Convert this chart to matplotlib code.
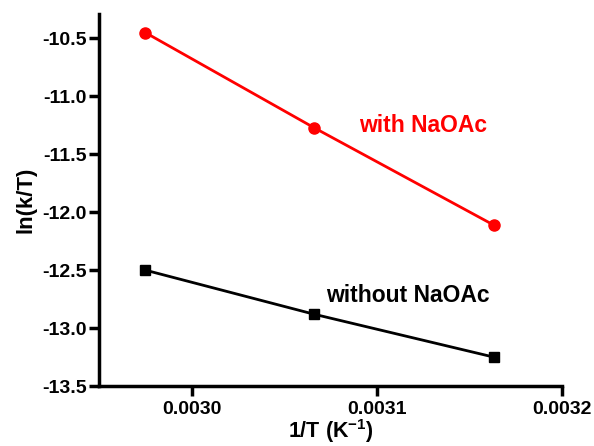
import matplotlib
matplotlib.use("Agg")
import matplotlib.pyplot as plt

plt.rcParams['font.family'] = ['Liberation Sans', 'DejaVu Sans']
plt.rcParams['font.weight'] = 'bold'
plt.rcParams['mathtext.fontset'] = 'custom'
plt.rcParams['mathtext.bf'] = 'Liberation Sans:bold'
plt.rcParams['mathtext.rm'] = 'Liberation Sans:bold'
plt.rcParams['mathtext.default'] = 'bf'

inv_T = [0.002975, 0.003066, 0.003163]
with_naoac = [-10.45, -11.27, -12.11]
without_naoac = [-12.50, -12.88, -13.25]

fig = plt.figure(figsize=(5.94, 4.46), dpi=100)
ax = fig.add_axes([0.1667, 0.1345, 0.7795, 0.834])

ax.plot(inv_T, with_naoac, color='#ff0000', marker='o', markersize=8, linewidth=2)
ax.plot(inv_T, without_naoac, color='black', marker='s', markersize=7.5, linewidth=2)

ax.set_xlim(0.00295, 0.0032)
ax.set_ylim(-13.5, -10.29)
ax.set_xticks([0.0030, 0.0031, 0.0032])
ax.set_xticklabels(['0.0030', '0.0031', '0.0032'])
ax.set_yticks([-10.5, -11.0, -11.5, -12.0, -12.5, -13.0, -13.5])
ax.set_yticklabels(['-10.5', '-11.0', '-11.5', '-12.0', '-12.5', '-13.0', '-13.5'])

for s in ['top', 'right']:
    ax.spines[s].set_visible(False)
for s in ['left', 'bottom']:
    ax.spines[s].set_linewidth(2.5)
ax.tick_params(width=2.5, length=7, labelsize=14)
ax.tick_params(axis='y', pad=2)
ax.tick_params(axis='x', pad=4)
for lab in ax.get_xticklabels() + ax.get_yticklabels():
    lab.set_fontweight('bold')

ax.set_xlabel('1/T (K$^{-1}$)', fontsize=15.5, fontweight='bold', labelpad=-1)
ax.set_ylabel('ln(k/T)', fontsize=16, fontweight='bold', labelpad=4)

ax.text(0.003125, -11.25, 'with NaOAc', color='#ff0000', fontsize=16.5, fontweight='bold', ha='center', va='center')
ax.text(0.003117, -12.72, 'without NaOAc', color='black', fontsize=16.5, fontweight='bold', ha='center', va='center')

fig.savefig('out.png', dpi=100)
